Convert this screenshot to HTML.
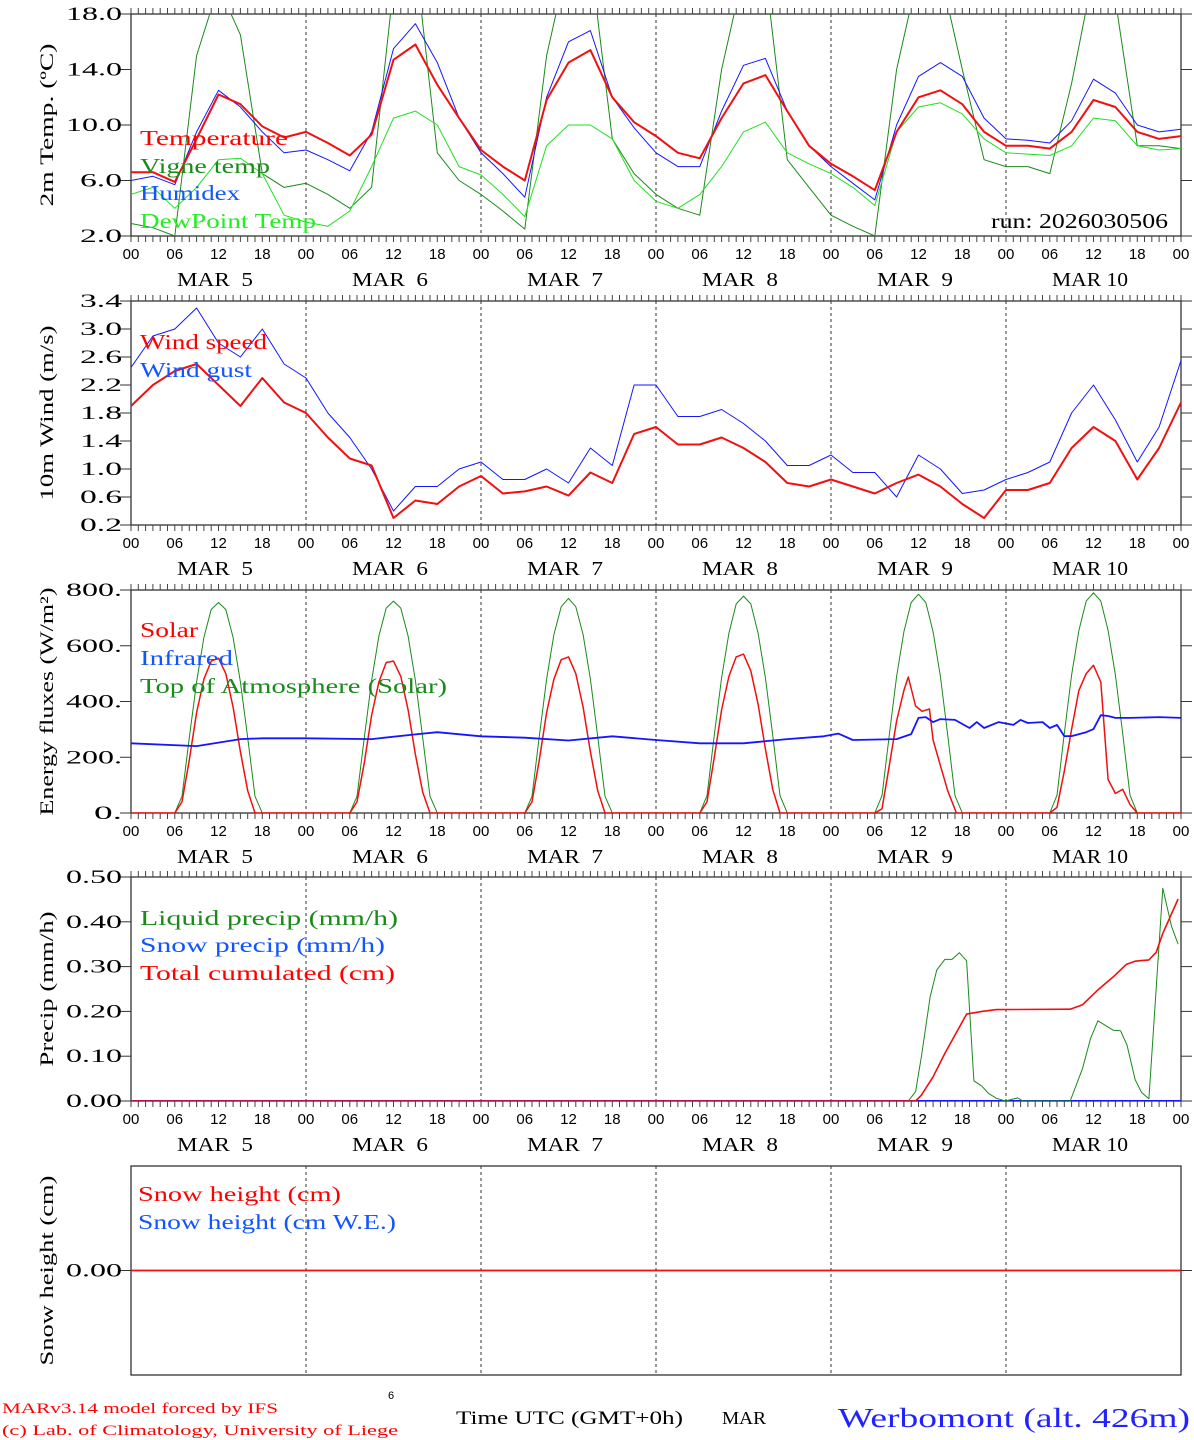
<!DOCTYPE html>
<html><head><meta charset="utf-8"><style>
html,body{margin:0;padding:0;background:#fff;}
svg{display:block;font-family:"Liberation Serif",serif;}
</style></head><body>
<svg id="c" width="1194" height="1440" viewBox="0 0 1194 1440" xmlns="http://www.w3.org/2000/svg">
<text x="2" y="1413" font-size="15" fill="#f00" textLength="276" lengthAdjust="spacingAndGlyphs">MARv3.14 model forced by IFS</text>
<text x="2" y="1435" font-size="15" fill="#f00" textLength="396" lengthAdjust="spacingAndGlyphs">(c) Lab. of Climatology, University of Liege</text>
<text x="388" y="1399" font-size="11" font-family="Liberation Sans,sans-serif">6</text>
<text x="456" y="1424" font-size="19" textLength="227" lengthAdjust="spacingAndGlyphs">Time UTC (GMT+0h)</text>
<text x="722" y="1424" font-size="18" textLength="44" lengthAdjust="spacingAndGlyphs">MAR</text>
<text x="838" y="1427" font-size="27" fill="#22f" textLength="352" lengthAdjust="spacingAndGlyphs">Werbomont (alt. 426m)</text>
</svg>
<script>
// ---------- data ----------
const hours3 = [0,3,6,9,12,15,18,21,24,27,30,33,36,39,42,45,48,51,54,57,60,63,66,69,72,75,78,81,84,87,90,93,96,99,102,105,108,111,114,117,120,123,126,129,132,135,138,141,144];
const tempVals = [6.6,6.6,5.9,9.0,12.2,11.5,9.9,9.1,9.5,8.7,7.8,9.3,14.7,15.8,12.9,10.5,8.2,7.0,6.0,11.8,14.5,15.4,12.0,10.2,9.2,8.0,7.6,10.5,13.0,13.6,11.0,8.5,7.2,6.3,5.3,9.5,12.0,12.5,11.5,9.5,8.5,8.5,8.3,9.5,11.8,11.3,9.5,9.0,9.2];
const vigneVals = [2.9,2.6,2.0,15,20,16.5,6.5,5.5,5.8,5.0,4.0,5.5,20,22,8,6.0,5.0,3.8,2.5,15,22,22,9,6.5,5.0,4.0,3.5,14,21,21,7.5,5.5,3.5,2.7,2.0,14,21,21,14,7.5,7.0,7.0,6.5,13,21,19,8.5,8.5,8.3];
const humidexVals = [6.0,6.3,5.7,9.5,12.5,11.3,9.5,8.0,8.2,7.5,6.7,9.5,15.5,17.3,14.5,10.5,8.0,6.5,4.8,12,16,16.8,12,9.8,8.0,7.0,7.0,11,14.3,14.8,11,8.5,7.0,5.8,4.6,10,13.5,14.5,13.5,10.5,9.0,8.9,8.7,10.3,13.3,12.3,10,9.5,9.7];
const dewVals = [5.0,5.5,4.0,5.5,7.5,7.6,6.5,3.5,3.0,2.7,3.8,7,10.5,11,10.0,7,6.4,5,3.4,8.5,10,10.0,9,6,4.5,4.0,5.0,7.0,9.5,10.2,8,7.2,6.5,5.5,4.2,9.5,11.3,11.6,10.8,9.0,8.0,7.9,7.8,8.5,10.5,10.3,8.5,8.2,8.3];
const windVals = [1.9,2.2,2.4,2.5,2.2,1.9,2.3,1.95,1.8,1.45,1.15,1.05,0.3,0.55,0.5,0.75,0.9,0.65,0.68,0.75,0.62,0.95,0.8,1.5,1.6,1.35,1.35,1.45,1.3,1.1,0.8,0.75,0.85,0.75,0.65,0.8,0.92,0.75,0.5,0.3,0.7,0.7,0.8,1.3,1.6,1.4,0.85,1.3,1.95];
const gustVals = [2.45,2.9,3.0,3.3,2.8,2.6,3.0,2.5,2.3,1.8,1.45,1.0,0.4,0.75,0.75,1.0,1.1,0.85,0.85,1.0,0.8,1.3,1.05,2.2,2.2,1.75,1.75,1.85,1.65,1.4,1.05,1.05,1.2,0.95,0.95,0.6,1.2,1.0,0.65,0.7,0.85,0.95,1.1,1.8,2.2,1.7,1.1,1.6,2.55];
const toaHours = [0,6,7,8,9,10,11,12,13,14,15,16,17,18,30,31,32,33,34,35,36,37,38,39,40,41,42,54,55,56,57,58,59,60,61,62,63,64,65,66,78,79,80,81,82,83,84,85,86,87,88,89,90,102,103,104,105,106,107,108,109,110,111,112,113,114,126,127,128,129,130,131,132,133,134,135,136,137,138,144];
const toaVals = [0,0,60,270,470,630,730,755,730,630,470,270,60,0,0,60,270,475,635,735,760,735,635,475,270,60,0,0,60,275,480,640,740,770,740,640,480,275,60,0,0,62,280,485,645,750,778,750,645,485,280,62,0,0,62,280,490,650,755,785,755,650,490,280,62,0,0,64,285,495,655,760,790,760,655,495,285,64,0,0];
const solarHours = [0,6,7,8,9,10,11,12,13,14,15,16,17,18,30,31,32,33,34,35,36,37,38,39,40,41,42,54,55,56,57,58,59,60,61,62,63,64,65,66,78,79,80,81,82,83,84,85,86,87,88,89,90,102,103,104,105,106,106.6,107.6,108.5,109.5,110,111,112,113.2,126,127,128,129,130,131,132,133,134,135,136,137,138,144];
const solarVals = [0,0,40,190,360,480,545,555,500,380,220,80,0,0,0,40,180,350,470,540,545,490,370,210,75,0,0,0,40,190,360,480,550,560,500,380,220,80,0,0,0,40,200,370,490,560,570,510,390,230,85,0,0,0,15,170,330,440,488,384,365,373,262,170,80,0,0,20,150,300,440,500,530,470,120,70,85,30,0,0];
const irHours = [0,9,15,18,24,33,39,42,48,54,60,66,72,78,84,90,95,97,99,105,107,108,109,110,111,113,115,116,117,119,121,122,123,125,126,127,128,129,131,132,133,134,135,137,141,144];
const irVals = [250,240,265,268,268,265,282,290,275,270,260,275,262,250,250,265,275,285,262,265,283,341,344,326,337,334,305,326,305,326,316,334,323,326,305,316,276,276,290,301,351,348,341,341,344,341];
const liqHours = [0,106.6,107.6,108.4,109.6,110.5,111.6,112.6,113.6,114.6,115.6,116.7,117.6,118.7,119.9,121.6,122.3,128.8,130.5,131.6,132.6,134.7,135.7,136.6,137.7,138.6,139.6,141.5,142.7,143.6];
const liqVals = [0,0,0.021,0.099,0.233,0.292,0.316,0.316,0.331,0.313,0.045,0.033,0.017,0.006,0,0.007,0,0,0.073,0.14,0.179,0.158,0.157,0.125,0.048,0.019,0.005,0.475,0.39,0.35];
const cumHours = [0,107.6,108.4,110,111.6,114.6,116.7,118.7,128.8,130.5,132.6,134.7,136.5,137.7,139.6,140.6,141.5,143.6];
const cumVals = [0,0,0.013,0.054,0.106,0.194,0.20,0.204,0.205,0.215,0.248,0.277,0.305,0.312,0.315,0.332,0.374,0.451];
const snowHours = [0,144];
const snowVals = [0,0];
const snowWeVals = [0,0];
const tempTicks = [2,6,10,14,18];
const tempTickLabels = ["2.0","6.0","10.0","14.0","18.0"];
const windTicks = [0.2,0.6,1.0,1.4,1.8,2.2,2.6,3.0,3.4];
const windTickLabels = ["0.2","0.6","1.0","1.4","1.8","2.2","2.6","3.0","3.4"];
const energyTicks = [0,200,400,600,800];
const energyTickLabels = ["0.","200.","400.","600.","800."];
const precipTicks = [0,0.1,0.2,0.3,0.4,0.5];
const precipTickLabels = ["0.00","0.10","0.20","0.30","0.40","0.50"];
const dayLabels = ["MAR  5","MAR  6","MAR  7","MAR  8","MAR  9","MAR 10"];
const hourLabels = ["00","06","12","18"];

// ---------- drawing ----------
const NS = "http://www.w3.org/2000/svg";
const svg = document.getElementById('c');
const X0 = 131, X1 = 1181;
const xs = h => X0 + h * (X1 - X0) / 144;
function mk(tag, attrs, parent) {
  const e = document.createElementNS(NS, tag);
  for (const k in attrs) e.setAttribute(k, attrs[k]);
  (parent || svg).appendChild(e);
  return e;
}
function panel(id, top, bot, ymin, ymax, ticks, labels, title, titleLen, hourTicks) {
  const g = mk('g', {});
  
  
  const ys = v => bot - (v - ymin) * (bot - top) / (ymax - ymin);
  const cp = mk('clipPath', {id: id + '-clip'}, g);
  mk('rect', {x: X0, y: top, width: X1 - X0, height: bot - top}, cp);
  const fr = mk('rect', {x: X0, y: top, width: X1 - X0, height: bot - top, fill: 'none', stroke: '#333', 'stroke-width': 1.3}, g);
  
  
  for (let d = 1; d < 6; d++) {
    const l = mk('line', {x1: xs(d * 24), x2: xs(d * 24), y1: top, y2: bot, stroke: '#333', 'stroke-dasharray': '3,3', 'stroke-width': 1}, g);
    
    
  }
  if (hourTicks) {
    let p = '';
    for (let h = 0; h <= 144; h++) {
      const x = xs(h).toFixed(1);
      p += `M${x} ${top}V${top - 6}M${x} ${bot}V${bot + 6}`;
    }
    const t = mk('path', {d: p, stroke: '#444', 'stroke-width': 1}, g);
    
    
    for (let d = 0; d < 6; d++) {
      for (let i = 0; i < 4; i++) {
        const tx = mk('text', {x: xs(d * 24 + i * 6), y: bot + 23, 'font-size': 15, 'text-anchor': 'middle', 'font-family': 'Liberation Sans,sans-serif'}, g);
        tx.textContent = hourLabels[i];
        
        
      }
      const dl = mk('text', {x: xs(d * 24) + 46, y: bot + 50, 'font-size': 20, textLength: 76, lengthAdjust: 'spacingAndGlyphs'}, g);
      dl.textContent = dayLabels[d];
      dl.setAttribute('style', 'white-space:pre');
      
      
    }
    const t2 = mk('text', {x: xs(144), y: bot + 23, 'font-size': 15, 'text-anchor': 'middle', 'font-family': 'Liberation Sans,sans-serif'}, g);
    t2.textContent = '00';
    
    
  }
  ticks.forEach((v, i) => {
    const y = ys(v);
    mk('line', {x1: X0 - 11, x2: X0, y1: y, y2: y, stroke: '#333'}, g);
    mk('line', {x1: X1, x2: X1 + 11, y1: y, y2: y, stroke: '#333'}, g);
    const len = labels[i].length * 14;
    const tl = mk('text', {x: X0 - 9 - len, y: y + 6, 'font-size': 19, textLength: len, lengthAdjust: 'spacingAndGlyphs'}, g);
    tl.textContent = labels[i];
    
    
  });
  const cy = (top + bot) / 2;
  const tt = mk('text', {x: 53 , y: cy + titleLen / 2, 'font-size': 19, textLength: titleLen, lengthAdjust: 'spacingAndGlyphs', transform: `rotate(-90 53 ${cy + titleLen / 2})`}, g);
  tt.textContent = title;
  
  
  return {g, ys, id};
}
function series(P, hrs, vals, color, w, name) {
  const d = hrs.map((h, i) => (i ? 'L' : 'M') + xs(h).toFixed(1) + ' ' + P.ys(vals[i]).toFixed(1)).join('');
  const p = mk('path', {d, fill: 'none', stroke: color, 'stroke-width': w, 'stroke-linejoin': 'round', 'clip-path': `url(#${P.id}-clip)`}, P.g);
  
  
}
function legend(P, x, y, text, len, color, name) {
  const t = mk('text', {x, y, 'font-size': 21, fill: color, textLength: len, lengthAdjust: 'spacingAndGlyphs'}, P.g);
  t.textContent = text;
  
  
}

const p1 = panel('temp', 14, 236, 2, 18, tempTicks, tempTickLabels, '2m Temp. (\u00BAC)', 163, true);
series(p1, hours3, vigneVals, '#1a8a1a', 1, 'vigne-temp-line');
series(p1, hours3, dewVals, '#22e022', 1, 'dewpoint-line');
series(p1, hours3, humidexVals, '#1515ff', 1, 'humidex-line');
series(p1, hours3, tempVals, '#f01010', 2, 'temperature-line');
legend(p1, 140, 145, 'Temperature', 148, '#f00', 'legend-temperature');
legend(p1, 140, 173, 'Vigne temp', 130, '#1a8a1a', 'legend-vigne-temp');
legend(p1, 140, 200, 'Humidex', 100, '#15f', 'legend-humidex');
legend(p1, 140, 228, 'DewPoint Temp', 176, '#2e2', 'legend-dewpoint');
const run = mk('text', {x: 991, y: 228, 'font-size': 21, textLength: 177, lengthAdjust: 'spacingAndGlyphs'}, p1.g);
run.textContent = 'run: 2026030506';



const p2 = panel('wind', 301, 525, 0.2, 3.4, windTicks, windTickLabels, '10m Wind (m/s)', 175, true);
series(p2, hours3, gustVals, '#1515ff', 1, 'wind-gust-line');
series(p2, hours3, windVals, '#f01010', 2, 'wind-speed-line');
legend(p2, 140, 349, 'Wind speed', 127, '#f00', 'legend-wind-speed');
legend(p2, 140, 377, 'Wind gust', 112, '#15f', 'legend-wind-gust');

const p3 = panel('energy', 590, 813, 0, 800, energyTicks, energyTickLabels, 'Energy fluxes (W/m\u00B2)', 228, true);
series(p3, toaHours, toaVals, '#1a8a1a', 1, 'toa-solar-line');
series(p3, solarHours, solarVals, '#f01010', 1.5, 'solar-line');
series(p3, irHours, irVals, '#1515ff', 1.8, 'infrared-line');
legend(p3, 140, 637, 'Solar', 58, '#f00', 'legend-solar');
legend(p3, 140, 665, 'Infrared', 93, '#15f', 'legend-infrared');
legend(p3, 140, 693, 'Top of Atmosphere (Solar)', 307, '#1a8a1a', 'legend-toa');

const p4 = panel('precip', 877, 1101, 0, 0.5, precipTicks, precipTickLabels, 'Precip (mm/h)', 155, true);
series(p4, [0, 144], [0, 0], '#1515ff', 2, 'snow-precip-line');
series(p4, liqHours, liqVals, '#1a8a1a', 1, 'liquid-precip-line');
series(p4, cumHours, cumVals, '#f01010', 1.6, 'cumulated-precip-line');
legend(p4, 140, 925, 'Liquid precip (mm/h)', 258, '#1a8a1a', 'legend-liquid');
legend(p4, 140, 952, 'Snow precip (mm/h)', 245, '#15f', 'legend-snow-precip');
legend(p4, 140, 980, 'Total cumulated (cm)', 255, '#f00', 'legend-cumulated');

const p5 = panel('snow', 1166, 1375, -1, 1, [0], ['0.00'], 'Snow height (cm)', 190, false);
series(p5, snowHours, snowWeVals, '#1515ff', 1.5, 'snow-we-line');
series(p5, snowHours, snowVals, '#f01010', 1.5, 'snow-height-line');
legend(p5, 138, 1201, 'Snow height (cm)', 203, '#f00', 'legend-snow-height');
legend(p5, 138, 1229, 'Snow height (cm W.E.)', 258, '#15f', 'legend-snow-we');
</script>
</body></html>
